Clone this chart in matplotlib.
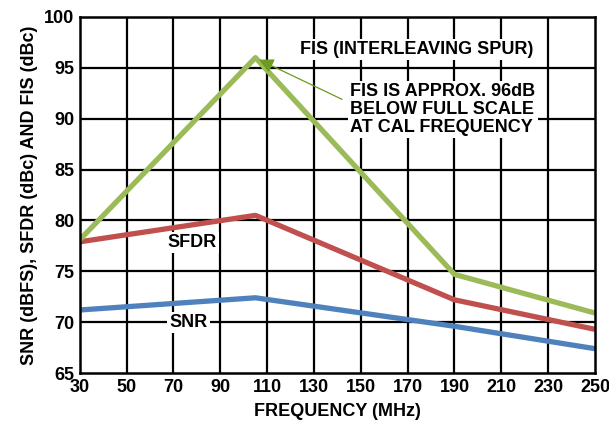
import matplotlib.pyplot as plt

plt.rcParams['font.family'] = ['Liberation Sans', 'DejaVu Sans']
plt.rcParams['font.weight'] = 'bold'

# Data
freq = [30, 105, 190, 250]
fis = [78.1, 96.0, 74.7, 70.9]
sfdr = [77.9, 80.5, 72.2, 69.3]
snr = [71.2, 72.4, 69.6, 67.4]

x_ticks = list(range(30, 251, 20))
y_ticks = list(range(65, 101, 5))

green = '#9BBB59'
red = '#C0504D'
blue = '#4F81BD'

fs = 13

fig = plt.figure(figsize=(6.09, 4.23), dpi=100)
ax = fig.add_axes([0.131, 0.118, 0.846, 0.842])

# Grid
for xv in x_ticks[1:-1]:
    ax.axvline(xv, color='black', lw=1.6, zorder=1)
for yv in y_ticks[1:-1]:
    ax.axhline(yv, color='black', lw=1.6, zorder=1)

ax.plot(freq, snr, color=blue, lw=3.8, zorder=3, solid_capstyle='butt')
ax.plot(freq, sfdr, color=red, lw=3.8, zorder=3, solid_capstyle='butt')
ax.plot(freq, fis, color=green, lw=3.8, zorder=4, solid_capstyle='butt')

box = dict(facecolor='white', edgecolor='none', pad=1.5)
ax.text(78, 77.8, 'SFDR', ha='center', va='center', fontsize=fs,
        fontweight='bold', bbox=box, zorder=5)
ax.text(76.5, 70.0, 'SNR', ha='center', va='center', fontsize=fs,
        fontweight='bold', bbox=box, zorder=5)
ax.text(174, 96.8, 'FIS (INTERLEAVING SPUR)', ha='center', va='center',
        fontsize=fs, fontweight='bold', bbox=box, zorder=5)
ax.text(145.5, 90.9, 'FIS IS APPROX. 96dB\nBELOW FULL SCALE\nAT CAL FREQUENCY',
        ha='left', va='center', fontsize=fs, fontweight='bold',
        linespacing=1.08, bbox=box, zorder=5)
ax.annotate('', xy=(106.5, 95.8), xytext=(142, 91.9),
            arrowprops=dict(arrowstyle='-|>', color='#6E9A1E', lw=0.9,
                            mutation_scale=22, shrinkA=0, shrinkB=0),
            zorder=6)

ax.set_xlim(30, 250)
ax.set_ylim(65, 100)
ax.set_xticks(x_ticks)
ax.set_yticks(y_ticks)
ax.tick_params(length=0, labelsize=fs, pad=4)
for lab in ax.get_xticklabels() + ax.get_yticklabels():
    lab.set_fontweight('bold')
for s in ax.spines.values():
    s.set_linewidth(1.8)
    s.set_zorder(7)

ax.set_xlabel('FREQUENCY (MHz)', fontsize=fs, fontweight='bold', labelpad=5)
ax.set_ylabel('SNR (dBFS), SFDR (dBc) AND FIS (dBc)', fontsize=fs,
              fontweight='bold', labelpad=4)

fig.savefig('out.png', dpi=100)
